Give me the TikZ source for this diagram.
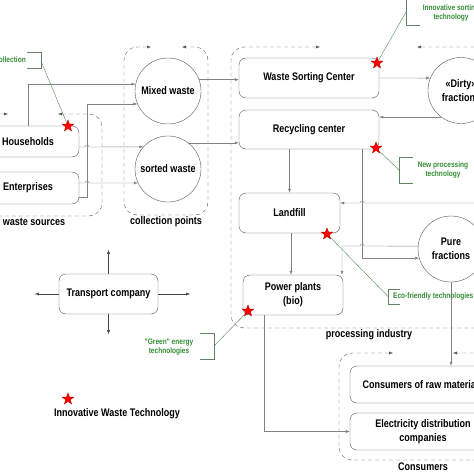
\documentclass[tikz,border=0pt]{standalone}
\usepackage{fontspec}
\newfontfamily\narrowfont{Liberation Sans}[FakeStretch=0.82]
\usetikzlibrary{arrows.meta,shapes.geometric}
\definecolor{linegray}{RGB}{130,130,130}
\definecolor{boxgray}{RGB}{85,85,85}
\definecolor{notegreen}{RGB}{50,140,50}
\tikzset{
  unit/.style={draw=boxgray, rounded corners=7pt, inner sep=0pt, align=center,
    font=\narrowfont\bfseries\fontsize{11}{14}\selectfont},
  hub/.style={draw=boxgray, circle, minimum size=66pt, inner sep=0pt, align=center,
    font=\narrowfont\bfseries\fontsize{11}{14}\selectfont},
  caption/.style={inner sep=0pt, font=\narrowfont\bfseries\fontsize{11}{14}\selectfont},
  flow/.style={draw=linegray, ->},
  push/.style={draw=boxgray!80!black, ->},
  group/.style={draw=boxgray, dash pattern=on 4pt off 3pt, <->, rounded corners=13pt},
  tech/.style={star, star points=5, star point ratio=2.4, fill=red, draw=red!75!black,
    minimum size=12pt, inner sep=0pt},
  note/.style={text=notegreen, align=center, inner sep=0pt,
    font=\narrowfont\bfseries\fontsize{8}{9.5}\selectfont},
  bracket/.style={draw=notegreen!40!gray},
  noteline/.style={draw=notegreen!60!gray},
  >={Latex[length=4pt,width=3pt]},
}
\begin{document}
\begin{tikzpicture}[x=1pt,y=-1pt]
  \useasboundingbox (0,0) rectangle (474,474);
  \clip (0,0) rectangle (474,474);
  % dashed groups
  \draw[group] (58,114) -- (102,114) -- (102,216) -- (-20,216) -- (-20,114) -- (8,114);
  \draw[group] (151,47) -- (124,47) -- (124,215) -- (208,215) -- (208,47) -- (182,47);
  \draw[group] (320,47) -- (231,47) -- (231,328) -- (520,328) -- (520,47) -- (417,47);
  \draw[group] (393,353) -- (339,353) -- (339,460) -- (520,460) -- (520,353) -- (453,353);
  \node[caption] (lsrc) at (34,222) {waste sources};
  \node[caption] (lcol) at (166,222) {collection points};
  \node[caption] (lproc) at (369,335) {processing industry};
  \node[caption] (lcons) at (423,467) {Consumers};
  % units
  \node[unit, minimum width=102pt, minimum height=31pt] (house) at (28,141.5) {Households};
  \node[unit, minimum width=102pt, minimum height=32pt] (enter) at (28,188) {Enterprises};
  \node[hub] (mixed) at (168,91) {Mixed waste};
  \node[hub] (sorted) at (168,169) {sorted waste};
  \node[unit, minimum width=140pt, minimum height=40pt] (wsc) at (309,78) {Waste Sorting Center};
  \node[unit, minimum width=140pt, minimum height=39pt] (recyc) at (309,129.5) {Recycling center};
  \node[unit, minimum width=101pt, minimum height=40pt] (landfill) at (289.5,213) {Landfill};
  \node[unit, minimum width=100pt, minimum height=40pt] (power) at (293,295) {Power plants\\(bio)};
  \node[hub] (dirty) at (461,90.5) {«Dirty»\\fractions};
  \node[hub] (pure) at (451,249) {Pure\\fractions};
  \node[unit, minimum width=99pt, minimum height=40pt] (transport) at (108.5,294) {Transport company};
  \node[unit, minimum width=146pt, minimum height=37pt] (rawmat) at (423,384.5) {Consumers of raw materials};
  \node[unit, minimum width=146pt, minimum height=37pt] (elec) at (423,431.5) {Electricity distribution\\companies};
  % flows
  \draw[flow] (house.north) |- (mixed.168);
  \draw[flow] ([yshift=-9pt]enter.east) -- ++(8,0) |- (mixed.203);
  \draw[flow] ([yshift=-5.5pt]house.east) -- (85,147) arc[start angle=180,end angle=360,radius=2] -- (sorted.138);
  \draw[flow] ([yshift=5pt]enter.east) -- (85,183) arc[start angle=180,end angle=360,radius=2] -- (sorted.205);
  \draw[flow] (mixed.20) -- (mixed.20 -| wsc.west);
  \draw[flow] (sorted.52) -- (sorted.52 -| recyc.west);
  \draw[flow] (wsc.east) -- (dirty.158);
  \draw[flow] (dirty.233) -- (dirty.233 -| recyc.east);
  \draw[flow] (recyc.south -| landfill.north) -- (landfill.north);
  \draw[flow] (362,0 |- recyc.south) |- (pure.196);
  \coordinate (rin) at (480,203);
  \draw[flow] (rin) -- (364,203) arc[start angle=0,end angle=-180,radius=2] -- ([yshift=10pt]landfill.east);
  \draw[flow] (pure.175) -- (364,246) arc[start angle=0,end angle=-180,radius=2] -- (342,246) -- (342,0 |- power.north);
  \draw[flow] (291,0 |- landfill.south) -- (291,0 |- power.north);
  \draw[flow] (264,0 |- power.south) |- (elec.west);
  \draw[flow] (pure.south) -- (pure.south |- rawmat.north);
  \draw[push] (transport.north) -- ++(0,-24);
  \draw[push] (transport.south) -- ++(0,20);
  \draw[push] (transport.west) -- ++(-24,0);
  \draw[push] (transport.east) -- ++(32,0);
  % notes
  \node[note, anchor=east] (nh) at (26,60) {collection};
  \draw[bracket] (27,52) -- (41,52) -- (41,68) -- (27,68);
  \coordinate (bh) at (41,61);
  \node[note] (nw) at (451,13) {Innovative sorting\\technology};
  \draw[bracket] (420,-2) -- (406,-2) -- (406,25) -- (420,25);
  \coordinate (bw) at (406,12);
  \node[note] (nr) at (443,170) {New processing\\technology};
  \draw[bracket] (413,157) -- (399,157) -- (399,183) -- (413,183);
  \coordinate (br) at (399,170);
  \node[note, anchor=west] (nl) at (393,296.5) {Eco-friendly technologies};
  \draw[bracket] (400,289) -- (388,289) -- (388,304) -- (400,304);
  \coordinate (bl) at (388,296.5);
  \node[note] (np) at (169,347) {"Green" energy\\technologies};
  \draw[bracket] (200,333) -- (214,333) -- (214,359) -- (200,359);
  \coordinate (bp) at (214,346);
  % stars
  \node[tech] (th) at (68,126) {};
  \node[tech] (tw) at (377,63) {};
  \node[tech] (tr) at (376,148) {};
  \node[tech] (tl) at (327,234) {};
  \node[tech] (tp) at (248,311) {};
  \draw[noteline] (bh) -- (th);
  \draw[noteline] (bw) -- (tw);
  \draw[noteline] (br) -- (tr);
  \draw[noteline] (bl) -- (tl);
  \draw[noteline] (bp) -- (tp);
  % legend
  \node[tech] (tk) at (68,399) {};
  \node[caption] (legend) at (117,414) {Innovative Waste Technology};
\end{tikzpicture}
\end{document}
